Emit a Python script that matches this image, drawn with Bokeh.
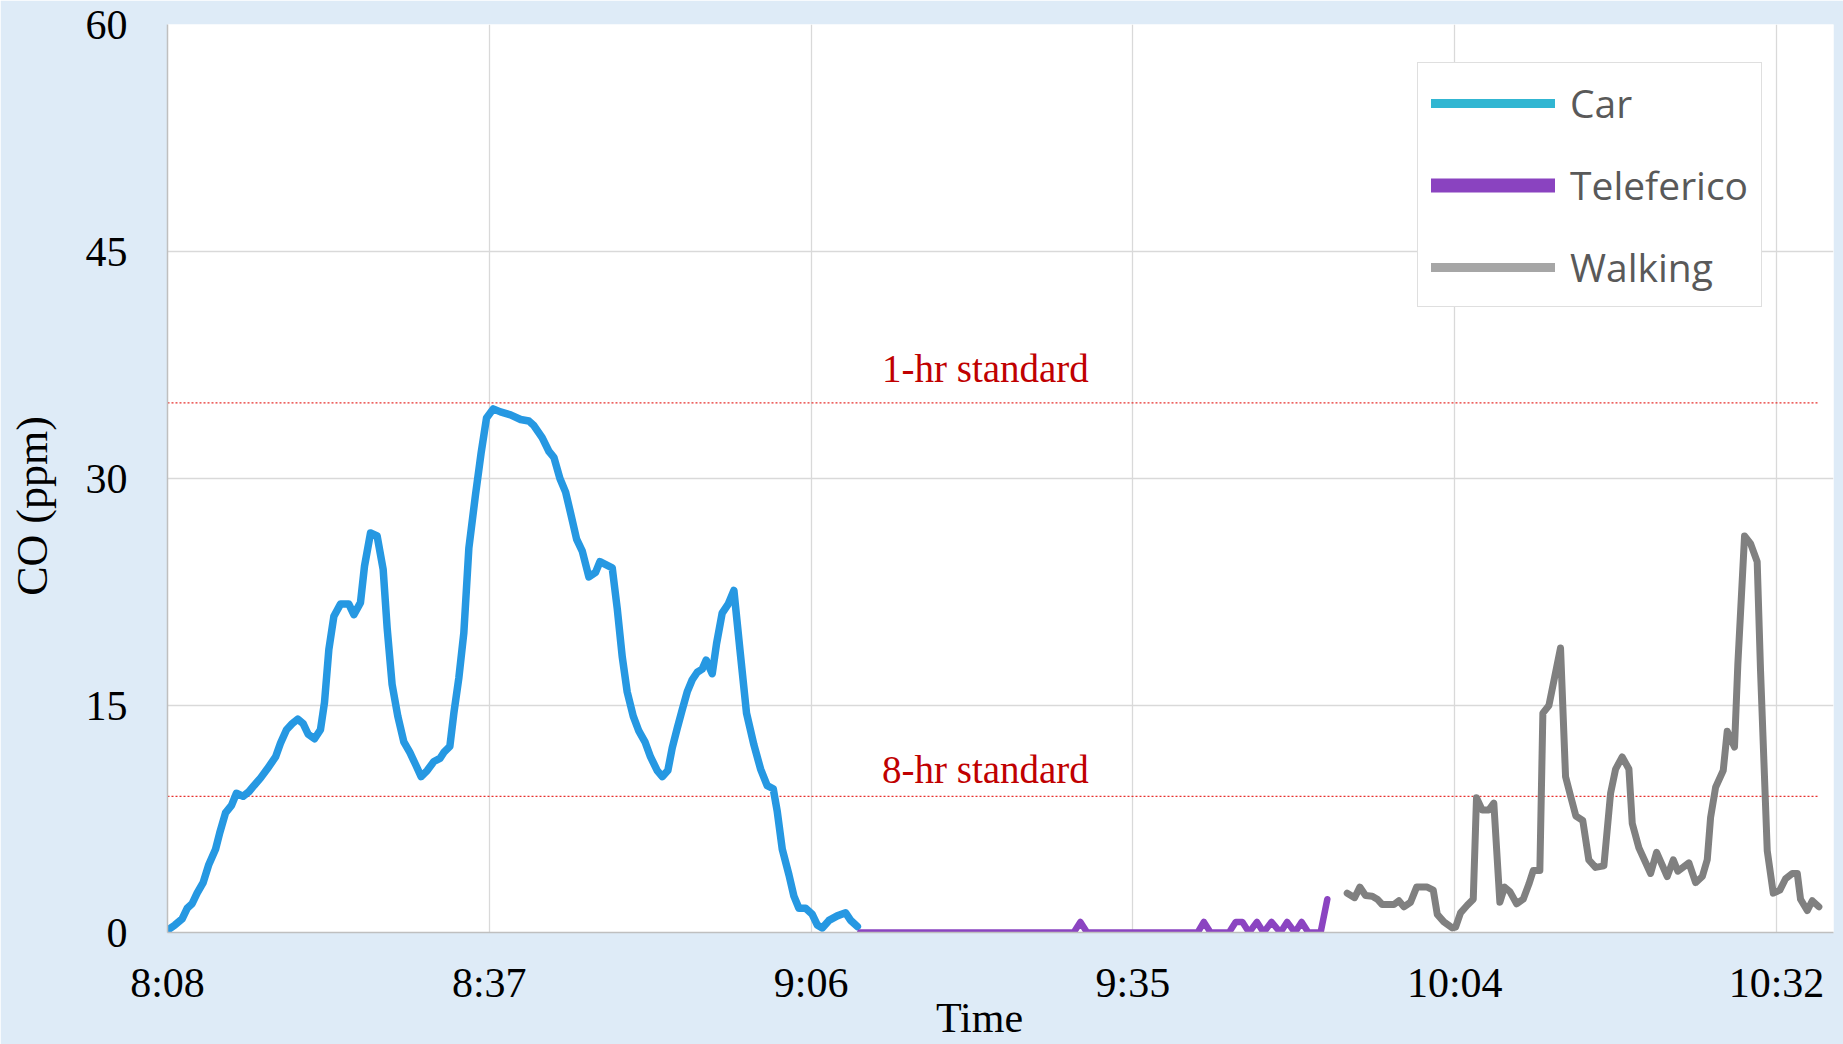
from bokeh.plotting import figure
from bokeh.models import Range1d, FixedTicker, Legend, LegendItem, Label
from bokeh.embed import file_html
from bokeh.resources import INLINE

# ---- data (minutes after 8:08, CO in ppm) ----
car_t = [0.1, 0.67, 1.31, 1.76, 2.2, 2.65, 3.19, 3.7, 4.3, 4.68, 5.19, 5.73, 6.17, 6.77, 7.28,
         7.73, 8.32, 8.92, 9.67, 10.11, 10.65, 11.16, 11.66, 12.14, 12.59, 13.16, 13.69, 14.05,
         14.44, 14.89, 15.48, 16.23, 16.68, 17.27, 17.63, 18.17, 18.76, 19.3, 19.66, 20.1, 20.61,
         21.15, 21.69, 22.2, 22.7, 23.24, 23.84, 24.38, 24.73, 25.27, 25.63, 26.07, 26.52, 26.97,
         27.56, 28.07, 28.55, 29.15,
         29.8, 30.7, 31.6, 32.34, 32.79, 33.53, 34.13, 34.58, 35.12, 35.63, 36.08, 36.61, 37.12,
         37.71, 38.31, 38.7, 39.8, 40.25, 40.7, 41.14, 41.68, 42.19, 42.73, 43.23, 43.83, 44.28,
         44.78, 45.17, 45.62, 46.06, 46.51, 46.96, 47.41, 47.85, 48.21, 48.75, 49.14, 49.64, 50.18,
         50.69, 51.23, 51.82, 52.48, 53.08, 53.67, 54.21, 54.57, 55.02, 55.62, 56.06, 56.51, 57.11,
         57.7, 58.15, 58.6, 59.2, 59.94, 60.69, 61.14, 61.74]
car_v = [0.2, 0.5, 0.9, 1.6, 1.9, 2.6, 3.3, 4.5, 5.5, 6.6, 7.9, 8.4, 9.2, 9.0, 9.3,
         9.7, 10.2, 10.8, 11.6, 12.5, 13.4, 13.8, 14.1, 13.8, 13.1, 12.8, 13.4, 15.2,
         18.7, 20.9, 21.7, 21.7, 21.0, 21.8, 24.2, 26.4, 26.2, 24.0, 20.1, 16.4, 14.3,
         12.6, 11.9, 11.1, 10.3, 10.7, 11.3, 11.5, 11.9, 12.3, 14.5, 16.8, 19.8, 25.4,
         28.9, 31.7, 34.0, 34.6,
         34.4, 34.2, 33.9, 33.8, 33.5, 32.7, 31.8, 31.4, 30.0, 29.1, 27.7, 26.0, 25.2,
         23.5, 23.8, 24.5, 24.1, 21.4, 18.2, 15.9, 14.3, 13.3, 12.6, 11.6, 10.7, 10.3,
         10.7, 12.2, 13.5, 14.7, 15.9, 16.7, 17.2, 17.4, 18.0, 17.1, 19.1, 21.1, 21.7,
         22.6, 18.7, 14.5, 12.4, 10.8, 9.7, 9.5, 8.0, 5.5, 3.8, 2.4, 1.6, 1.6,
         1.2, 0.5, 0.3, 0.8, 1.1, 1.3, 0.8, 0.4]

tele_t = [62.0, 81.1, 81.7, 82.3, 92.2, 92.75, 93.35, 95.0, 95.6, 96.2, 96.8, 97.5, 98.1,
          98.8, 99.6, 100.2, 100.9, 101.5, 102.1, 103.2, 103.8]
tele_v = [0, 0, 0.7, 0, 0, 0.7, 0, 0, 0.7, 0.7, 0, 0.7, 0,
          0.7, 0, 0.7, 0, 0.7, 0, 0, 2.2]

walk_t = [105.58, 106.24, 106.71, 107.22, 107.82, 108.27, 108.71, 109.76, 110.2, 110.65,
          111.25, 111.79, 112.74, 113.28, 113.64, 114.23, 114.98, 115.28, 115.72, 116.32,
          116.86, 117.15, 117.66, 118.26, 118.7, 119.24, 119.66, 120.14, 120.74, 121.33,
          121.84, 122.23, 122.82, 123.09, 123.63, 124.67, 125.12, 125.56, 126.04, 126.66,
          127.2, 127.8, 128.55, 129.15, 129.6, 130.19, 130.79, 131.09, 131.68, 132.73,
          133.27, 134.22, 134.76, 135.17, 136.16, 136.76, 137.36, 137.8, 138.1, 138.55,
          139.23, 139.59, 140.24, 140.54, 141.14, 141.68, 142.27, 142.57, 143.17, 143.71,
          144.3, 144.81, 145.41, 145.86, 146.15, 146.75, 147.2, 147.79]
walk_v = [2.6, 2.3, 3.0, 2.45, 2.4, 2.2, 1.85, 1.85, 2.1, 1.7,
          2.0, 3.0, 3.0, 2.8, 1.2, 0.7, 0.3, 0.35, 1.3, 1.8,
          2.2, 8.9, 8.1, 8.1, 8.55, 2.0, 3.0, 2.7, 1.9, 2.2,
          3.2, 4.1, 4.1, 14.5, 15.0, 18.8, 10.3, 9.05, 7.7, 7.4,
          4.8, 4.3, 4.4, 9.2, 10.8, 11.6, 10.8, 7.2, 5.6, 3.9,
          5.3, 3.7, 4.8, 4.05, 4.6, 3.3, 3.7, 4.8, 7.6, 9.6,
          10.7, 13.3, 12.25, 17.75, 26.2, 25.7, 24.5, 17.3, 5.4, 2.6,
          2.8, 3.55, 3.9, 3.9, 2.2, 1.45, 2.1, 1.7]

std_levels = [35, 9]
std_names = ["1-hr standard", "8-hr standard"]
std_t = [0, 147.7]

x_ticks = [0, 28.8, 57.6, 86.4, 115.2, 144]
x_tick_labels = ["8:08", "8:37", "9:06", "9:35", "10:04", "10:32"]
y_ticks = [0, 15, 30, 45, 60]
series_names = ["Car", "Teleferico", "Walking"]
x_title = "Time"
y_title = "CO (ppm)"

# ---- style ----
BG = "#DEEBF7"
SERIF = "Liberation Serif"
NAN = float("nan")
NBSP = "\u00a0"

p = figure(width=1843, height=1044, x_range=Range1d(0, 149.1), y_range=Range1d(0, 60),
           output_backend="svg", toolbar_location=None,
           min_border_left=167, min_border_right=10, min_border_top=24, min_border_bottom=112,
           background_fill_color="white", border_fill_color=BG)
p.outline_line_color = None

for ax in (p.xaxis, p.yaxis):
    ax.major_tick_line_color = None
    ax.minor_tick_line_color = None
    ax.axis_line_color = "#BFBFBF"
    ax.axis_line_width = 1.5
    ax.major_label_text_font = SERIF
    ax.major_label_text_font_size = "42px"
    ax.major_label_text_color = "black"
    ax.axis_label_text_font = SERIF
    ax.axis_label_text_font_style = "normal"
    ax.axis_label_text_color = "black"

p.xaxis.ticker = FixedTicker(ticks=x_ticks)
p.xaxis.major_label_overrides = {t: s for t, s in zip(x_ticks, x_tick_labels)}
p.xaxis.major_label_standoff = 21
# trailing no-break spaces shift the centred title slightly, as in the reference
p.xaxis.axis_label = x_title + NBSP * 4
p.xaxis.axis_label_text_font_size = "42px"
p.xaxis.axis_label_standoff = -14

p.yaxis.ticker = FixedTicker(ticks=y_ticks)
p.yaxis.major_label_standoff = 34
p.yaxis.axis_label = y_title + NBSP * 5
p.yaxis.axis_label_text_font_size = "44px"
p.yaxis.axis_label_standoff = 26

p.grid.grid_line_color = "#D9D9D9"
p.grid.grid_line_width = 1.3

# standards
for lvl, name, ly in zip(std_levels, std_names, [37.3, 10.75]):
    p.line(std_t, [lvl, lvl], line_color="#E8302E", line_width=1.2, line_dash="2 2")
    p.add_layout(Label(x=73.2, y=ly, text=name, text_font=SERIF, text_font_size="39px",
                       text_color="#C00000", text_align="center", text_baseline="alphabetic"))

# series
p.line(car_t, car_v, line_color="#2698E2", line_width=7.5, line_join="round", line_cap="round")
p.line(tele_t, tele_v, line_color="#8B44C1", line_width=6.5, line_join="round", line_cap="round")
p.line(walk_t, walk_v, line_color="#808080", line_width=7, line_join="round", line_cap="round")

# legend-only renderers (the reference legend glyphs differ from the drawn series)
lg_car = p.line([NAN], [NAN], line_color="#31B6D2", line_width=9, line_cap="round")
lg_tele = p.line([NAN], [NAN], line_color="#8A43C0", line_width=14, line_cap="round")
lg_walk = p.line([NAN], [NAN], line_color="#A6A6A6", line_width=9, line_cap="round")
legend = Legend(items=[LegendItem(label=n, renderers=[r]) for n, r in
                       zip(series_names, [lg_car, lg_tele, lg_walk])],
                location=(1250, 625), margin=0, padding=13,
                glyph_width=124, glyph_height=40, label_height=40, spacing=29,
                label_standoff=15, label_text_font="Open Sans", label_text_font_size="39px",
                label_text_color="#595959", border_line_color="#BFBFBF", border_line_width=1.5,
                background_fill_color="white", background_fill_alpha=1.0)
p.add_layout(legend)

html = file_html(p, INLINE)
html = html.replace("<body>", '<body style="background-color:%s">' % BG, 1)
open("out.html", "w").write(html)
